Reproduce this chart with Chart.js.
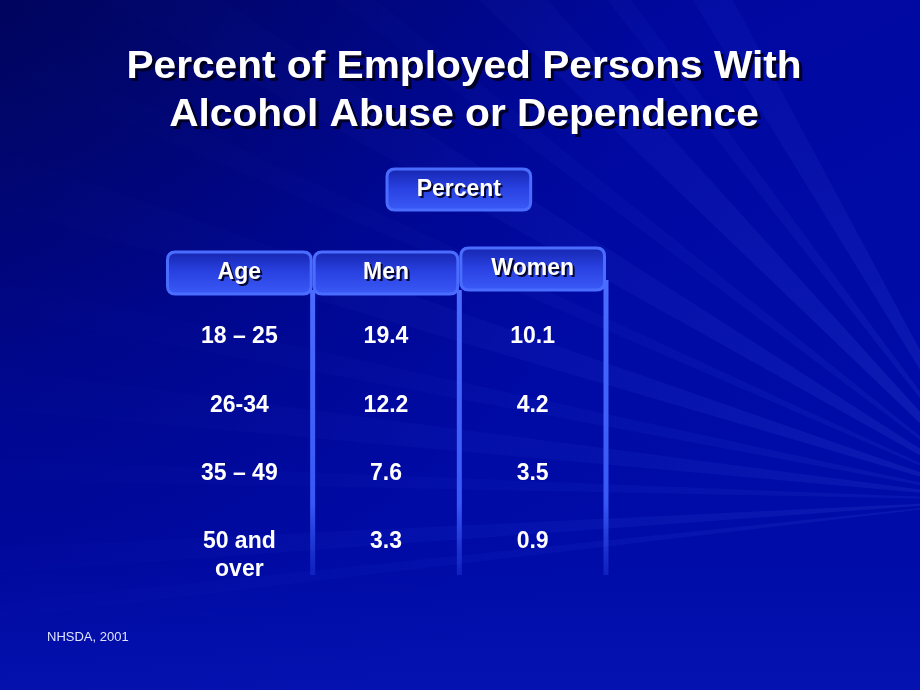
<!DOCTYPE html>
<html>
<head>
<meta charset="utf-8">
<script src="https://cdn.jsdelivr.net/npm/chart.js@4.4.1/dist/chart.umd.min.js"></script>
<style>
  html, body { margin: 0; padding: 0; background: #000a90; }
  #slide { display: block; }
</style>
</head>
<body>
<canvas id="slide" width="920" height="690"></canvas>
<script>
// table content
const columns = ['Age', 'Men', 'Women'];
const ageGroups = ['18 – 25', '26-34', '35 – 49', '50 and over'];
const menPct = [19.4, 12.2, 7.6, 3.3];
const womenPct = [10.1, 4.2, 3.5, 0.9];
const titleLines = ['Percent of Employed Persons With', 'Alcohol Abuse or Dependence'];
const groupHeader = 'Percent';
const sourceNote = 'NHSDA, 2001';

const FONT = 'Arial, "Liberation Sans", sans-serif';

function cells(col, values) {
  return values.map((v, i) => ({ x: col, y: ageGroups[i], text: typeof v === 'number' ? v.toFixed(1) : v }));
}

// slide background: dark blue with light streaks fanning out from the right edge
const backgroundPlugin = {
  id: 'slideBackground',
  beforeDraw(chart) {
    const { ctx, width, height } = chart;
    ctx.save();
    const g = ctx.createLinearGradient(0, 0, width * 0.4, height);
    g.addColorStop(0, '#00077a');
    g.addColorStop(0.45, '#0008a0');
    g.addColorStop(1, '#000ca8');
    ctx.fillStyle = g;
    ctx.fillRect(0, 0, width, height);

    // [angle above due-left, angular width, strength]
    const streaks = [
      [1.05, 0.06, 0.07], [0.92, 0.03, 0.06], [0.80, 0.07, 0.08], [0.66, 0.03, 0.05],
      [0.54, 0.06, 0.07], [0.42, 0.025, 0.05], [0.31, 0.05, 0.07], [0.20, 0.03, 0.05],
      [0.11, 0.04, 0.06], [0.03, 0.02, 0.05], [-0.06, 0.025, 0.07], [-0.11, 0.015, 0.06]
    ];
    const ox = 1000, oy = 500;
    streaks.forEach(([ang, spread, alpha]) => {
      const a0 = Math.PI + ang - spread / 2;
      const a1 = Math.PI + ang + spread / 2;
      const r = 1300;
      const sg = ctx.createRadialGradient(ox, oy, 0, ox, oy, r);
      sg.addColorStop(0, 'rgba(110,140,255,' + alpha * 1.8 + ')');
      sg.addColorStop(0.35, 'rgba(80,110,255,' + alpha + ')');
      sg.addColorStop(0.85, 'rgba(60,90,255,0)');
      ctx.fillStyle = sg;
      ctx.beginPath();
      ctx.moveTo(ox, oy);
      ctx.lineTo(ox + r * Math.cos(a0), oy + r * Math.sin(a0));
      ctx.lineTo(ox + r * Math.cos(a1), oy + r * Math.sin(a1));
      ctx.closePath();
      ctx.fill();
    });
    // faint lighter band along the bottom
    const b = ctx.createLinearGradient(0, 560, 0, height);
    b.addColorStop(0, 'rgba(20,40,200,0)');
    b.addColorStop(1, 'rgba(20,40,200,0.22)');
    ctx.fillStyle = b;
    ctx.fillRect(0, 560, width, height - 560);
    // darker top-left corner
    const v = ctx.createRadialGradient(0, 0, 0, 0, 0, 650);
    v.addColorStop(0, 'rgba(0,0,50,0.4)');
    v.addColorStop(1, 'rgba(0,0,50,0)');
    ctx.fillStyle = v;
    ctx.fillRect(0, 0, width, height);
    ctx.restore();
  }
};

function roundBox(ctx, x, y, w, h, r) {
  ctx.beginPath();
  ctx.moveTo(x + r, y);
  ctx.lineTo(x + w - r, y);
  ctx.quadraticCurveTo(x + w, y, x + w, y + r);
  ctx.lineTo(x + w, y + h - r);
  ctx.quadraticCurveTo(x + w, y + h, x + w - r, y + h);
  ctx.lineTo(x + r, y + h);
  ctx.quadraticCurveTo(x, y + h, x, y + h - r);
  ctx.lineTo(x, y + r);
  ctx.quadraticCurveTo(x, y, x + r, y);
  ctx.closePath();
}

function headerBox(ctx, x, y, w, h, label) {
  ctx.save();
  const g = ctx.createLinearGradient(0, y, 0, y + h);
  g.addColorStop(0, '#1626b0');
  g.addColorStop(0.45, '#2840e0');
  g.addColorStop(1, '#3a5af6');
  roundBox(ctx, x, y, w, h, 8);
  ctx.fillStyle = g;
  ctx.fill();
  ctx.lineWidth = 3;
  ctx.strokeStyle = '#4a6cff';
  ctx.stroke();
  shadowText(ctx, label, x + w / 2, y + h / 2, 'bold 23px ' + FONT, 2, 1);
  ctx.restore();
}

function shadowText(ctx, text, x, y, font, off, sx) {
  ctx.save();
  ctx.translate(x, y);
  ctx.scale(sx || 1, 1);
  ctx.font = font;
  ctx.textAlign = 'center';
  ctx.textBaseline = 'middle';
  if (off) {
    ctx.fillStyle = 'rgba(0,0,30,0.9)';
    ctx.fillText(text, off, off);
  }
  ctx.fillStyle = '#ffffff';
  ctx.fillText(text, 0, 0);
  ctx.restore();
}

// headers, column rules, cell text and slide text placed from the scales
const tablePlugin = {
  id: 'tableDraw',
  afterDatasetsDraw(chart) {
    const { ctx, chartArea } = chart;
    const xs = chart.scales.x;
    const band = xs.getPixelForValue(1) - xs.getPixelForValue(0);
    const edges = [0, 1, 2].map(i => xs.getPixelForValue(i) - band / 2).concat([xs.getPixelForValue(2) + band / 2]);

    // title
    shadowText(ctx, titleLines[0], 464, 68, 'bold 38px ' + FONT, 3, 1.07);
    shadowText(ctx, titleLines[1], 464, 116, 'bold 38px ' + FONT, 3, 1.07);

    // vertical rules of the Men / Women columns
    [edges[1], edges[2], edges[3]].forEach((ex, k) => {
      const top = k === 2 ? chartArea.top - 22 : chartArea.top - 12;
      const lg = ctx.createLinearGradient(0, top, 0, chartArea.bottom);
      lg.addColorStop(0, '#4a6cff');
      lg.addColorStop(0.75, '#3858f6');
      lg.addColorStop(1, 'rgba(40,70,230,0.35)');
      ctx.fillStyle = lg;
      ctx.fillRect(ex - 2.5, top, 5, chartArea.bottom - top);
    });

    // percent group header
    headerBox(ctx, edges[1] + band / 2 + 1, chartArea.top - 133, band - 3, 41, groupHeader);

    // column headers
    const yOff = [0, 0, -4];
    columns.forEach((c, i) => {
      headerBox(ctx, edges[i] + 1.5, chartArea.top - 50 + yOff[i], band - 3, 42, c);
    });

    // cell text from the dataset points
    chart.data.datasets.forEach((ds, di) => {
      const meta = chart.getDatasetMeta(di);
      meta.data.forEach((pt, i) => {
        const words = ds.data[i].text;
        const lines = words === '50 and over' ? ['50 and', 'over'] : [words];
        lines.forEach((ln, k) => shadowText(ctx, ln, pt.x, pt.y + 1 + k * 28, 'bold 23px ' + FONT, 0, 1));
      });
    });

    // source note
    ctx.save();
    ctx.font = '13px ' + FONT;
    ctx.fillStyle = '#dfe3ff';
    ctx.textBaseline = 'middle';
    ctx.fillText(sourceNote, 47, 637);
    ctx.restore();
  }
};

new Chart(document.getElementById('slide'), {
  type: 'scatter',
  data: {
    datasets: [
      { label: 'Age', data: cells('Age', ageGroups) },
      { label: 'Men', data: cells('Men', menPct) },
      { label: 'Women', data: cells('Women', womenPct) }
    ]
  },
  options: {
    responsive: false,
    animation: false,
    layout: { padding: { left: 166, right: 314, top: 302, bottom: 115 } },
    elements: { point: { radius: 0, hoverRadius: 0 } },
    scales: {
      x: { type: 'category', labels: columns, offset: true, display: false },
      y: { type: 'category', labels: ageGroups, offset: true, display: false }
    },
    plugins: { legend: { display: false }, tooltip: { enabled: false } }
  },
  plugins: [backgroundPlugin, tablePlugin]
});
</script>
</body>
</html>
